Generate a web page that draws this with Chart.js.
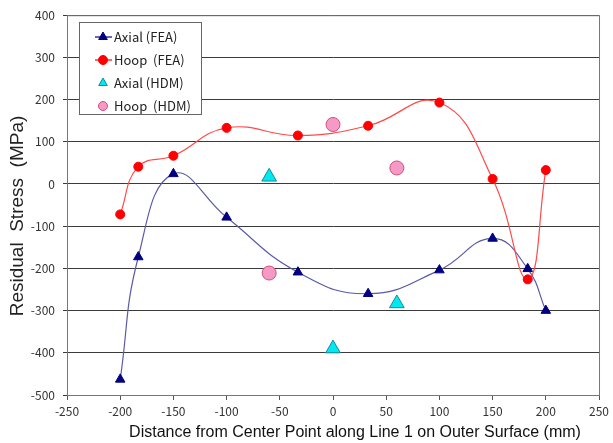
<!DOCTYPE html>
<html>
<head>
<meta charset="utf-8">
<script src="https://cdn.jsdelivr.net/npm/chart.js@4/dist/chart.umd.min.js"></script>
<style>
  html, body { margin: 0; padding: 0; background: #fff; }
  #wrap { width: 613px; height: 443px; }
</style>
</head>
<body>
<div id="wrap"><canvas id="stressChart" width="613" height="443"></canvas></div>
<script>
// measurement positions along line 1 (mm)
const feaPositions = [-200, -183, -150, -100, -33, 33, 100, 150, 183, 200];
const hdmPositions = [-60, 0, 60];

// residual stress values (MPa)
const axialFea = [-463, -173, 24, -79, -209, -260, -204, -129, -201, -300];
const hoopFea = [-72, 41, 67, 133, 115, 138, 193, 12, -226, 33];
const axialHdm = [17, -390, -283];
const hoopHdm = [-211, 141, 38];

const seriesLabels = ['Axial (FEA)', 'Hoop  (FEA)', 'Axial (HDM)', 'Hoop  (HDM)'];
const xTitle = 'Distance from Center Point along Line 1 on Outer Surface (mm)';
const yTitle = 'Residual  Stress  (MPa)';

const toPoints = (xs, ys) => xs.map((x, i) => ({ x: x, y: ys[i] }));

function drawMarker(ctx, style, x, y, r) {
  if (style === 'triangle') {
    ctx.moveTo(x, y - r);
    ctx.lineTo(x + r * 0.866, y + r * 0.5);
    ctx.lineTo(x - r * 0.866, y + r * 0.5);
    ctx.closePath();
  } else {
    ctx.arc(x, y, r, 0, Math.PI * 2);
  }
}

// frame, axis titles and the boxed legend inside the plot
const framePlugin = {
  id: 'frame',
  afterDraw(chart) {
    const { ctx, chartArea } = chart;
    ctx.save();
    ctx.strokeStyle = '#777';
    ctx.lineWidth = 1;
    ctx.strokeRect(chartArea.left + 0.5, chartArea.top + 0.5,
      chartArea.right - chartArea.left, chartArea.bottom - chartArea.top);

    ctx.fillStyle = '#111';
    ctx.font = '16px "Liberation Sans", Arial, sans-serif';
    ctx.textAlign = 'center';
    ctx.textBaseline = 'middle';
    ctx.fillText(xTitle, 355, 433);

    ctx.save();
    ctx.translate(18, 216);
    ctx.rotate(-Math.PI / 2);
    ctx.font = '19px "Liberation Sans", Arial, sans-serif';
    ctx.fillStyle = '#222';
    ctx.fillText(yTitle, 0, 0);
    ctx.restore();

    // legend box
    const bx = 79.5, by = 22.5, bw = 122, bh = 92;
    ctx.fillStyle = '#fff';
    ctx.fillRect(bx, by, bw, bh);
    ctx.strokeStyle = '#666';
    ctx.strokeRect(bx, by, bw, bh);

    const rows = [37, 60, 83, 106];
    chart.data.datasets.forEach((ds, i) => {
      const y = rows[i];
      const mx = 103;
      if (ds.showLine) {
        ctx.strokeStyle = ds.pointBackgroundColor;
        ctx.lineWidth = 1.2;
        ctx.beginPath();
        ctx.moveTo(95, y);
        ctx.lineTo(112, y);
        ctx.stroke();
      }
      ctx.fillStyle = ds.pointBackgroundColor;
      ctx.strokeStyle = ds.pointBorderColor;
      ctx.lineWidth = 1;
      ctx.beginPath();
      drawMarker(ctx, ds.pointStyle, mx, y, ds.legendRadius);
      ctx.fill();
      ctx.stroke();

      ctx.fillStyle = '#222';
      ctx.font = '13px "Noto Sans CJK KR", "Liberation Sans", sans-serif';
      ctx.textAlign = 'left';
      ctx.textBaseline = 'middle';
      ctx.fillText(ds.label, 114, y);
    });
    ctx.restore();
  }
};

const tickFont = { family: '"Noto Sans CJK KR", "Liberation Sans", sans-serif', size: 12 };

new Chart(document.getElementById('stressChart'), {
  type: 'scatter',
  data: {
    datasets: [
      {
        label: seriesLabels[0],
        data: toPoints(feaPositions, axialFea),
        showLine: true,
        tension: 0.45,
        borderColor: '#5a5aa6',
        borderWidth: 1.2,
        pointStyle: 'triangle',
        pointRadius: 5.5,
        legendRadius: 5,
        pointBackgroundColor: '#000080',
        pointBorderColor: '#000080',
        pointBorderWidth: 1,
        order: 2
      },
      {
        label: seriesLabels[1],
        data: toPoints(feaPositions, hoopFea),
        showLine: true,
        tension: 0.45,
        borderColor: '#ff4a4a',
        borderWidth: 1.2,
        pointStyle: 'circle',
        pointRadius: 4.5,
        legendRadius: 4.5,
        pointBackgroundColor: '#ff0000',
        pointBorderColor: '#ff0000',
        pointBorderWidth: 1,
        order: 1
      },
      {
        label: seriesLabels[2],
        data: toPoints(hdmPositions, axialHdm),
        showLine: false,
        pointStyle: 'triangle',
        pointRadius: 8.5,
        legendRadius: 5,
        pointBackgroundColor: '#00e8f0',
        pointBorderColor: '#1a8aa0',
        pointBorderWidth: 1,
        order: 0
      },
      {
        label: seriesLabels[3],
        data: toPoints(hdmPositions, hoopHdm),
        showLine: false,
        pointStyle: 'circle',
        pointRadius: 7,
        legendRadius: 4.5,
        pointBackgroundColor: '#f59ac4',
        pointBorderColor: '#d0507a',
        pointBorderWidth: 1,
        order: 0
      }
    ]
  },
  options: {
    responsive: false,
    animation: false,
    layout: { padding: { top: 12, right: 10, left: 0, bottom: 0 } },
    plugins: {
      legend: { display: false },
      tooltip: { enabled: false }
    },
    scales: {
      x: {
        type: 'linear',
        min: -250,
        max: 250,
        afterFit: (scale) => { scale.height = 48; },
        ticks: { stepSize: 50, color: '#333', font: tickFont, padding: 4, maxRotation: 0 },
        grid: { drawOnChartArea: false, drawTicks: true, tickLength: 5, color: '#555' },
        border: { color: '#777' }
      },
      y: {
        min: -500,
        max: 400,
        afterFit: (scale) => { scale.width = 67; },
        ticks: { stepSize: 100, color: '#333', font: tickFont, padding: 8 },
        grid: { color: '#3a3a3a', lineWidth: 1, drawTicks: true, tickLength: 4 },
        border: { color: '#777' }
      }
    }
  },
  plugins: [framePlugin]
});
</script>
</body>
</html>
